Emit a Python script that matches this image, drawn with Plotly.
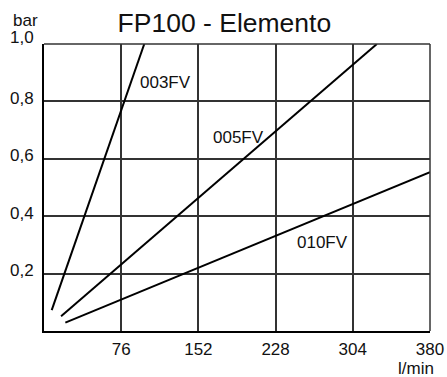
import plotly.graph_objects as go

series_names = ["003FV", "005FV", "010FV"]
flow_start = [7.6, 16.8, 21.0]
flow_end = [98.7, 327.7, 380.0]
pressure_start = [0.073, 0.051, 0.029]
pressure_end = [1.0, 1.0, 0.553]

label_flow = [119.4, 191.5, 274.4]
label_pressure = [0.867, 0.675, 0.31]

x_tickvals = [76, 152, 228, 304, 380]
x_ticktext = ["76", "152", "228", "304", "380"]
y_tickvals = [0.2, 0.4, 0.6, 0.8, 1.0]
y_ticktext = ["0,2", "0,4", "0,6", "0,8", "1,0"]
y_label_shift = [3, 3, 3, 3, 7]

FONT = "Liberation Sans, Arial, sans-serif"
TXT = "#111"
GRID = "#333333"
GRID_W = 1.5

fig = go.Figure()

for i, name in enumerate(series_names):
    fig.add_trace(go.Scatter(
        x=[flow_start[i], flow_end[i]],
        y=[pressure_start[i], pressure_end[i]],
        mode="lines", line=dict(color="black", width=2),
        name=name, showlegend=False, hoverinfo="skip"))
    fig.add_annotation(x=label_flow[i], y=label_pressure[i], text=name,
                       showarrow=False, xref="x", yref="y",
                       font=dict(size=17, color=TXT, family=FONT))

for v, t, s in zip(y_tickvals, y_ticktext, y_label_shift):
    fig.add_annotation(x=0, y=v, xref="x", yref="y", text=t, showarrow=False,
                       xanchor="right", yanchor="middle", xshift=-8, yshift=s,
                       font=dict(size=17, color=TXT, family=FONT))

fig.update_layout(
    width=447, height=377,
    margin=dict(l=44, r=17, t=43.5, b=46.3, autoexpand=False),
    paper_bgcolor="white", plot_bgcolor="white",
    title=dict(text="FP100 - Elemento", x=0.502, xanchor="center",
               y=1 - 23/377, yanchor="middle",
               font=dict(size=26.5, color=TXT, family=FONT)),
    font=dict(family=FONT, color=TXT),
)
fig.update_xaxes(range=[0, 380], tickvals=x_tickvals, ticktext=x_ticktext,
                 showgrid=True, gridcolor=GRID, gridwidth=GRID_W,
                 showline=True, linecolor="black", linewidth=2,
                 zeroline=False, ticks="outside", ticklen=2,
                 tickcolor="rgba(0,0,0,0)",
                 tickfont=dict(size=17, family=FONT, color=TXT))
fig.update_yaxes(range=[0, 1], tickvals=y_tickvals,
                 showticklabels=False, showgrid=True, gridcolor=GRID, gridwidth=GRID_W,
                 showline=True, linecolor="black", linewidth=2,
                 zeroline=False, ticks="")

# top and right borders of the grid (plotly omits grid lines at range edges)
fig.add_shape(type="line", xref="paper", yref="paper", x0=0, x1=1, y0=1, y1=1,
              line=dict(color=GRID, width=GRID_W))
fig.add_shape(type="line", xref="paper", yref="paper", x0=1, x1=1, y0=0, y1=1,
              line=dict(color=GRID, width=GRID_W))

fig.add_annotation(text="bar", xref="paper", yref="paper", x=(25 - 44) / 386,
                   y=1 + 23 / 287, xanchor="center", yanchor="middle",
                   showarrow=False, font=dict(size=17, family=FONT, color=TXT))
fig.add_annotation(text="l/min", xref="paper", yref="paper", x=(416 - 44) / 386,
                   y=-37 / 287, xanchor="center", yanchor="middle",
                   showarrow=False, font=dict(size=17, family=FONT, color=TXT))

fig.write_html("out.html", config={"displayModeBar": False},
               post_script="document.body.style.margin='0';document.body.style.overflow='hidden';")
